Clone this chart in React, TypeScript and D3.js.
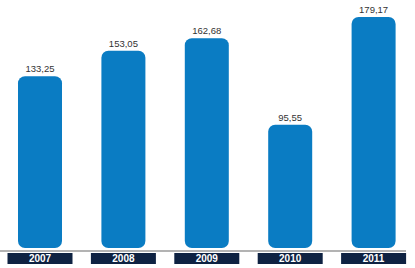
import React from "react";
import * as d3 from "d3";

const years = ["2007", "2008", "2009", "2010", "2011"];
const values = [133.25, 153.05, 162.68, 95.55, 179.17];
const valueLabels = ["133,25", "153,05", "162,68", "95,55", "179,17"];

export default function App() {
  const W = 415, H = 268;
  const baseY = 248;
  const x = d3.scaleBand<string>().domain(years).range([-1.7, 415.3]).paddingInner(0).paddingOuter(0);
  const step = x.step();
  const barW = 44;
  const boxW = 65;
  const y = d3.scaleLinear().domain([0, 179.17]).range([baseY, 17]);
  return (
    <svg width={W} height={H} style={{ position: "absolute", left: 0, top: 0, display: "block" }}>
      <rect x={0} y={0} width={W} height={H} fill="#ffffff" />
      {years.map((yr, i) => {
        const cx = (x(yr) as number) + step / 2;
        const top = y(values[i]);
        return (
          <g key={yr}>
            <rect x={cx - barW / 2} y={top} width={barW} height={baseY - top} rx={7} ry={7} fill="#0a7cc3" />
            <text x={cx} y={top - 4} textAnchor="middle" fontFamily="Liberation Sans Narrow, Arial Narrow, sans-serif" fontSize={9.5} fill="#333333">
              {valueLabels[i]}
            </text>
            <rect x={cx - boxW / 2} y={253} width={boxW} height={11} fill="#0e2242" />
            <text x={cx} y={262} textAnchor="middle" fontFamily="Liberation Sans Narrow, Arial Narrow, sans-serif" fontWeight="bold" fontSize={10} fill="#ffffff">
              {yr}
            </text>
          </g>
        );
      })}
      <line x1={0} x2={406} y1={251} y2={251} stroke="#9a9a9a" strokeWidth={1.5} />
    </svg>
  );
}
